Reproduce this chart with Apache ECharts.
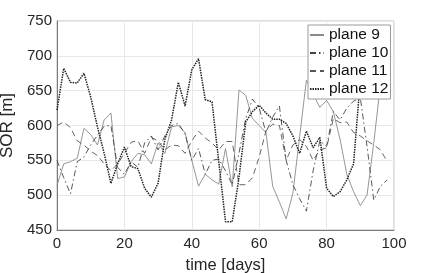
<!DOCTYPE html>
<html>
<head>
<meta charset="utf-8">
<script src="https://cdn.jsdelivr.net/npm/echarts@6/dist/echarts.min.js"></script>
<style>
html,body{margin:0;padding:0;background:#fff;}
#chart{width:436px;height:273px;}
</style>
</head>
<body>
<div id="chart"></div>
<script>
var days = [0,2,4,6,8,10,12,14,16,18,20,22,24,26,28,30,32,34,36,38,40,42,44,46,48,50,52,54,56,58,60,62,64,66,68,70,72,74,76,78,80,82,84,86,88,90,92,94,96,98];
var plane9 = [514,545,548,553,596,587,572,608,618,524,526,548,560,558,545,575,560,598,600,590,550,513,530,522,516,567,512,651,643,610,600,590,513,490,466,503,584,665,645,626,636,620,580,530,505,485,500,575,660,690];
var plane10 = [550,525,502,548,555,572,586,599,600,540,530,548,540,575,585,565,585,600,603,588,550,567,530,550,552,535,515,560,610,638,625,590,612,628,550,515,495,477,535,578,570,620,608,625,635,640,570,493,513,522];
var plane11 = [600,605,597,578,572,563,557,545,535,545,560,576,578,560,583,578,565,572,571,560,578,592,582,575,565,577,577,515,515,525,555,592,602,600,550,572,580,570,550,565,568,610,604,605,590,585,578,572,565,548];
var plane12 = [622,682,662,661,675,641,598,560,517,545,569,541,538,510,497,517,580,608,662,628,680,696,637,634,548,462,462,525,605,620,629,618,609,609,603,585,560,592,568,583,510,498,505,522,545,665,680,690,680,670];
var seriesNames = ['plane 9','plane 10','plane 11','plane 12'];
var xTicks = [0,20,40,60,80,100];
var yTicks = [450,500,550,600,650,700,750];

function pairs(vals){ return days.map(function(d,i){ return [d, vals[i]]; }); }

var styles = [
  {color:'#8a8a8a', width:0.9, type:'solid'},
  {color:'#444444', width:0.9, type:[6,3,1.5,3]},
  {color:'#555555', width:0.9, type:[6,4]},
  {color:'#222222', width:1.5, type:[1.5,1]}
];
var allData = [plane9, plane10, plane11, plane12];

var chart = echarts.init(document.getElementById('chart'), null, {renderer:'canvas'});
chart.setOption({
  animation:false,
  backgroundColor:'#fff',
  grid:{left:57, right:42, top:21, bottom:43, containLabel:false, outerBoundsMode:'none', show:true, borderColor:'#bdbdbd', borderWidth:1},
  legend:{
    orient:'vertical', left:308, top:25, z:20,
    backgroundColor:'#fff', borderColor:'#9a9a9a', borderWidth:1,
    padding:[2,2,2,1], itemGap:2, itemWidth:14, itemHeight:14,
    itemStyle:{opacity:0},
    textStyle:{fontFamily:'Liberation Sans, Arial, sans-serif', fontSize:15.5, lineHeight:16, color:'#111'},
    data:seriesNames
  },
  xAxis:{
    type:'value', min:xTicks[0], max:xTicks[xTicks.length-1], interval:20,
    name:'time [days]', nameLocation:'middle', nameGap:27,
    nameTextStyle:{fontFamily:'Liberation Sans, Arial, sans-serif', fontSize:16.5, color:'#262626'},
    axisLine:{lineStyle:{color:'#7a7a7a', width:1}},
    axisTick:{show:false},
    axisLabel:{fontFamily:'Liberation Sans, Arial, sans-serif', fontSize:15, color:'#262626', margin:6},
    splitLine:{show:true, lineStyle:{color:'#e8e8e8', width:1}}
  },
  yAxis:{
    type:'value', min:yTicks[0], max:yTicks[yTicks.length-1], interval:50,
    name:'SOR [m]', nameLocation:'middle', nameGap:30,
    nameTextStyle:{fontFamily:'Liberation Sans, Arial, sans-serif', fontSize:17, color:'#262626'},
    axisLine:{show:true, lineStyle:{color:'#7a7a7a', width:1}},
    axisTick:{show:false},
    axisLabel:{fontFamily:'Liberation Sans, Arial, sans-serif', fontSize:15, color:'#262626', margin:5},
    splitLine:{show:true, lineStyle:{color:'#e8e8e8', width:1}}
  },
  series:seriesNames.map(function(n,i){
    return {
      name:n, type:'line', data:pairs(allData[i]),
      symbol:'none', showSymbol:false,
      lineStyle:{color:styles[i].color, width:styles[i].width, type:styles[i].type},
      itemStyle:{color:styles[i].color},
      z:2+i
    };
  })
});
</script>
</body>
</html>
